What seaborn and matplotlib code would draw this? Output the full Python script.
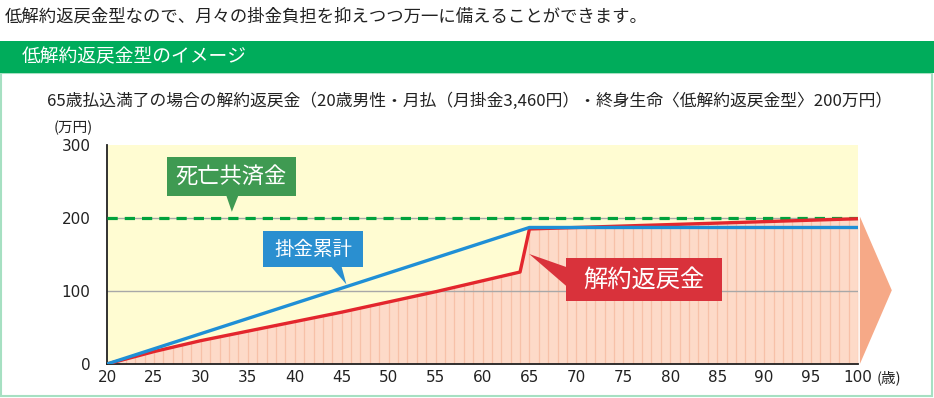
import numpy as np
import pandas as pd
import matplotlib.pyplot as plt
from matplotlib.patches import Rectangle, Polygon
import seaborn as sns

# values (万円)
age_paid = [20, 65, 100]
paid_total = [0, 187, 187]

age_refund = [20, 25, 30, 35, 40, 45, 50, 55, 60, 64, 65, 80, 100]
refund = [0, 17, 32, 45, 58, 71, 85, 99, 114, 126, 185, 191, 199]

death_benefit = 200
x_ticks = list(range(20, 101, 5))
y_ticks = [0, 100, 200, 300]

top_text = "低解約返戻金型なので、月々の掛金負担を抑えつつ万一に備えることができます。"
header_text = "低解約返戻金型のイメージ"
chart_title = "65歳払込満了の場合の解約返戻金（20歳男性・月払（月掛金3,460円）・終身生命〈低解約返戻金型〉200万円）"

sns.set_style("white")
plt.rcParams['font.family'] = ['Noto Sans CJK JP', 'DejaVu Sans']

W, H = 934, 398
fig = plt.figure(figsize=(W / 100, H / 100), dpi=100)


def fx(px):
    return px / W


def fy(py):
    return 1 - py / H


# panel frame and green header
fig.patches.append(Rectangle((fx(1), fy(396)), fx(932) - fx(1), fy(73) - fy(396),
                             transform=fig.transFigure, fill=False,
                             edgecolor='#a6e0c2', lw=1.5))
fig.patches.append(Rectangle((0, fy(73)), 1, fy(41) - fy(73),
                             transform=fig.transFigure, color='#00ac5b', lw=0))
fig.text(fx(5), fy(17), top_text, fontsize=12.5, va='center', color='#222222')
fig.text(fx(22), fy(57), header_text, fontsize=13.5, va='center', color='white')
fig.text(fx(47), fy(101), chart_title, fontsize=12.1, va='center', color='#222222')
fig.text(fx(93), fy(128), "(万円)", fontsize=10.5, va='center', ha='right', color='#222222')
fig.text(fx(877), fy(378), "(歳)", fontsize=10.5, va='center', ha='left', color='#222222')

ax = fig.add_axes([fx(107), fy(364), fx(858) - fx(107), fy(145) - fy(364)])
ax.set_facecolor('#fffcd2')

df_paid = pd.DataFrame({'age': age_paid, 'value': paid_total})
df_refund = pd.DataFrame({'age': age_refund, 'value': refund})

# pink area under the refund curve with thin vertical stripes
ax.fill_between(age_refund, refund, 0, color='#fddac8', lw=0, zorder=1)
years = np.arange(20, 101)
ax.vlines(years, 0, np.interp(years, age_refund, refund), color='#f7c1a8', lw=0.9, zorder=1.2)

ax.axhline(100, color='#a8a8a8', lw=1, zorder=1.5)
ax.axhline(death_benefit, color='#a8a8a8', lw=1, zorder=1.5)
ax.axhline(death_benefit, color='#00a23c', lw=2.3, ls=(0, (3.2, 2.2)), zorder=4)

sns.lineplot(data=df_refund, x='age', y='value', ax=ax, color='#e3262d', lw=2.4, zorder=5)
sns.lineplot(data=df_paid, x='age', y='value', ax=ax, color='#1f8fd6', lw=2.4, zorder=6)

# arrow beyond 100 years
ax.add_patch(Polygon([(100.2, 202), (103.6, 101), (100.2, 0)], closed=True,
                     color='#f6a987', lw=0, clip_on=False, zorder=3))


def callout(x0, x1, y0, y1, pointer, text, color, size):
    ax.add_patch(Rectangle((x0, y0), x1 - x0, y1 - y0, color=color, lw=0, zorder=8))
    ax.add_patch(Polygon(pointer, closed=True, color=color, lw=0, zorder=8))
    ax.text((x0 + x1) / 2, (y0 + y1) / 2, text, color='white', fontsize=size,
            ha='center', va='center', zorder=9)


callout(26.4, 40.1, 230, 284, [(32.7, 231), (34.0, 231), (33.3, 208.5)],
        "死亡共済金", '#3f9a52', 16)
callout(36.6, 47.3, 132.3, 182.5, [(43.9, 133), (45.0, 133), (45.5, 109)],
        "掛金累計", '#2a8fd0', 14)
callout(68.85, 85.5, 86.7, 144.8, [(69.0, 132.5), (64.97, 150.7), (69.0, 106)],
        "解約返戻金", '#d9323b', 17.5)

ax.set_xlim(20, 100)
ax.set_ylim(0, 300)
ax.set_xticks(x_ticks)
ax.set_yticks(y_ticks)
ax.set_xlabel('')
ax.set_ylabel('')
ax.tick_params(length=0, labelsize=11, labelcolor='#222222')
ax.tick_params(axis='x', pad=4)
ax.tick_params(axis='y', pad=12)
for lab in ax.get_xticklabels() + ax.get_yticklabels():
    lab.set_fontfamily('DejaVu Sans')
sns.despine(ax=ax)
for side in ['left', 'bottom']:
    ax.spines[side].set_color('#222222')
    ax.spines[side].set_linewidth(1.3)
ax.grid(False)

fig.savefig('out.png', dpi=100)
